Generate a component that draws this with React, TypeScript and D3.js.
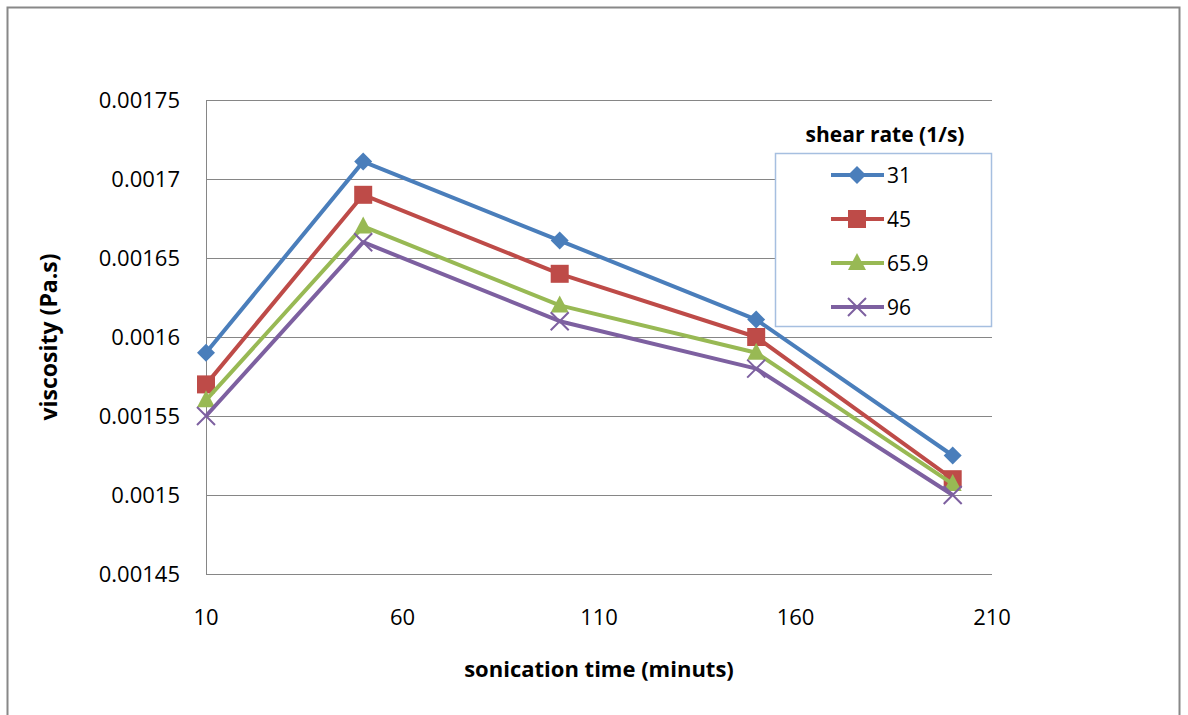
import { useRef, useEffect } from "react";
import * as d3 from "d3";

const times = [10, 50, 100, 150, 200];
const seriesNames = ["31", "45", "65.9", "96"];
const rate31 = [0.00159, 0.001711, 0.001661, 0.001611, 0.001525];
const rate45 = [0.00157, 0.00169, 0.00164, 0.0016, 0.00151];
const rate659 = [0.00156, 0.00167, 0.00162, 0.00159, 0.001507];
const rate96 = [0.00155, 0.00166, 0.00161, 0.00158, 0.0015];
const yTicks = [0.00145, 0.0015, 0.00155, 0.0016, 0.00165, 0.0017, 0.00175];
const xTicks = [10, 60, 110, 160, 210];

const COLORS = ["#4A7EBB", "#BE4B48", "#98B954", "#7D60A0"];
const MARKERS = ["diamond", "square", "triangle", "cross"];
const FONT = "'Open Sans', 'Noto Sans', sans-serif";

function drawMarker(g: any, kind: string, x: number, y: number, color: string) {
  if (kind === "diamond") {
    g.append("path").attr("d", `M${x},${y - 9}L${x + 9},${y}L${x},${y + 9}L${x - 9},${y}Z`).attr("fill", color);
  } else if (kind === "square") {
    g.append("rect").attr("x", x - 9).attr("y", y - 9).attr("width", 18).attr("height", 18).attr("fill", color);
  } else if (kind === "triangle") {
    g.append("path").attr("d", `M${x},${y - 10}L${x + 9},${y + 7}L${x - 9},${y + 7}Z`).attr("fill", color);
  } else {
    g.append("path")
      .attr("d", `M${x - 9},${y - 9}L${x + 9},${y + 9}M${x - 9},${y + 9}L${x + 9},${y - 9}`)
      .attr("stroke", color)
      .attr("stroke-width", 2);
  }
}

export default function App() {
  const svgRef = useRef<SVGSVGElement>(null);

  useEffect(() => {
    if (!svgRef.current) return;
    const svg = d3.select(svgRef.current);
    svg.selectAll("*").remove();

    const series = [rate31, rate45, rate659, rate96];
    const left = 206, right = 992, top = 100, bottom = 574;

    const x = d3.scaleLinear().domain([10, 210]).range([left, right]);
    const y = d3.scaleLinear().domain([0.00145, 0.00175]).range([bottom, top]);

    // outer frame
    svg.append("rect").attr("x", 7.5).attr("y", 7.5).attr("width", 1172).attr("height", 720)
      .attr("fill", "white").attr("stroke", "#888").attr("stroke-width", 2);

    // gridlines
    svg.append("g").selectAll("line").data(yTicks).enter().append("line")
      .attr("x1", left).attr("x2", right)
      .attr("y1", (d) => Math.round(y(d)) + 0.5).attr("y2", (d) => Math.round(y(d)) + 0.5)
      .attr("stroke", "#868686").attr("stroke-width", 1);

    // axes
    svg.append("line").attr("x1", left + 0.5).attr("x2", left + 0.5).attr("y1", top).attr("y2", bottom)
      .attr("stroke", "#868686");

    svg.append("g").selectAll("text").data(yTicks).enter().append("text")
      .attr("x", 180).attr("y", (d) => y(d) + 8).attr("text-anchor", "end")
      .attr("font-family", FONT).attr("font-size", 22).attr("fill", "#000")
      .text((d) => String(+d.toFixed(5)));

    svg.append("g").selectAll("text").data(xTicks).enter().append("text")
      .attr("x", (d) => x(d)).attr("y", 625).attr("text-anchor", "middle")
      .attr("font-family", FONT).attr("font-size", 22).attr("fill", "#000")
      .text((d) => String(d));

    svg.append("text").attr("x", 599).attr("y", 677).attr("text-anchor", "middle")
      .attr("font-family", FONT).attr("font-size", 22).attr("font-weight", "bold")
      .text("sonication time (minuts)");

    svg.append("text").attr("transform", `translate(57,337) rotate(-90)`).attr("text-anchor", "middle")
      .attr("font-family", FONT).attr("font-size", 23).attr("font-weight", "bold")
      .text("viscosity (Pa.s)");

    // lines
    const line = d3.line<number>().x((_, i) => x(times[i])).y((d) => y(d));
    series.forEach((vals, si) => {
      const g = svg.append("g");
      g.append("path").attr("d", line(vals)).attr("fill", "none")
        .attr("stroke", COLORS[si]).attr("stroke-width", 4).attr("stroke-linejoin", "round");
      vals.forEach((v, i) => drawMarker(g, MARKERS[si], x(times[i]), y(v), COLORS[si]));
    });

    // legend
    svg.append("text").attr("x", 885).attr("y", 142).attr("text-anchor", "middle")
      .attr("font-family", FONT).attr("font-size", 21).attr("font-weight", "bold")
      .text("shear rate (1/s)");
    svg.append("rect").attr("x", 775.5).attr("y", 153.5).attr("width", 216).attr("height", 173)
      .attr("fill", "white").attr("stroke", "#A6BFE0").attr("stroke-width", 1.5);
    seriesNames.forEach((name, si) => {
      const ly = 175 + si * 44;
      const g = svg.append("g");
      g.append("line").attr("x1", 831).attr("x2", 884).attr("y1", ly).attr("y2", ly)
        .attr("stroke", COLORS[si]).attr("stroke-width", 4);
      drawMarker(g, MARKERS[si], 857, ly, COLORS[si]);
      g.append("text").attr("x", 887).attr("y", ly + 8).attr("font-family", FONT).attr("font-size", 21)
        .text(name);
    });
  }, []);

  return <svg ref={svgRef} width={1188} height={715} style={{ position: "absolute", left: 0, top: 0 }} />;
}
